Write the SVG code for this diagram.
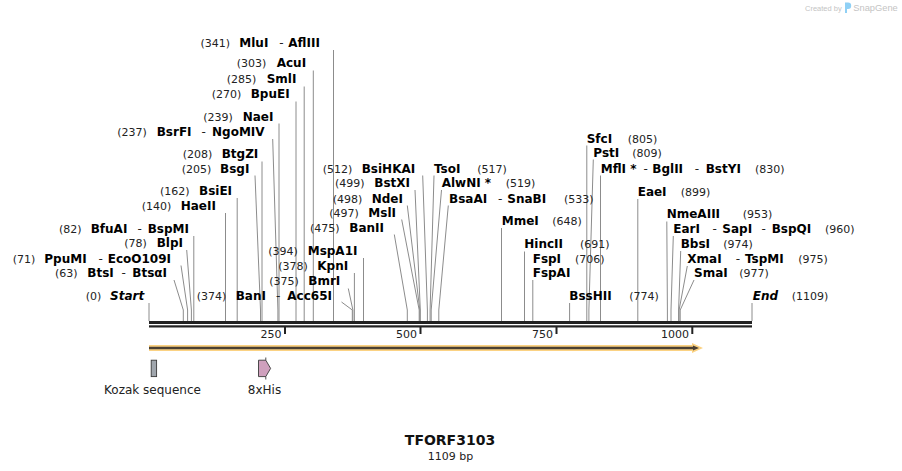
<svg xmlns="http://www.w3.org/2000/svg" width="902" height="471" viewBox="0 0 902 471">
<style>
.n{font-family:"DejaVu Sans",Verdana,sans-serif;font-weight:bold;font-size:12px;fill:#000}
.it{font-style:italic}
.p{font-family:"DejaVu Sans",Verdana,sans-serif;font-size:11px;fill:#222}
.h{font-family:"DejaVu Sans",Verdana,sans-serif;font-weight:normal;font-size:12px;fill:#222}
.c{fill:none;stroke:#8c8c8c;stroke-width:1}
.t{font-family:"DejaVu Sans",Verdana,sans-serif;font-size:11px;fill:#222}
.f{font-family:"DejaVu Sans",Verdana,sans-serif;font-size:12px;fill:#222}
.wm{font-family:"Liberation Sans",Arial,sans-serif;fill:#c4c4c4}
</style>
<rect width="902" height="471" fill="#fff"/>

<g id="watermark">
<text class="wm" x="805" y="10.5" font-size="7.5">Created by</text>
<path d="M845,2.5 h3 a3.2 3.2 0 0 1 0 6.4 h-1 v4 h-2 z" fill="#8fd0f5"/>
<text class="wm" x="853.3" y="11" font-size="9.3" fill="#b0b0b0">SnapGene</text>
</g>

<g id="connectors">
<line class="c" x1="333.5" y1="50" x2="333.5" y2="321"/>
<line class="c" x1="313.3" y1="70.5" x2="313.3" y2="321"/>
<line class="c" x1="304.2" y1="86.5" x2="304.2" y2="321"/>
<line class="c" x1="296" y1="101.5" x2="296" y2="321"/>
<line class="c" x1="279" y1="123.5" x2="279" y2="321"/>
<polyline class="c" points="272.7,139 277.9,310 277.9,321"/>
<line class="c" x1="262" y1="161.5" x2="262" y2="321"/>
<polyline class="c" points="255,175.5 260.5,310 260.5,321"/>
<line class="c" x1="237.2" y1="198" x2="237.2" y2="321"/>
<line class="c" x1="225.5" y1="213" x2="225.5" y2="321"/>
<line class="c" x1="193.8" y1="236" x2="193.8" y2="321"/>
<polyline class="c" points="186.7,250 191.4,310 191.4,321"/>
<polyline class="c" points="181,265.5 187.6,310 187.6,321"/>
<polyline class="c" points="174,280 183.3,310 183.3,321"/>
<line class="c" x1="149" y1="303" x2="149" y2="321"/>
<polyline class="c" points="341.5,302 352.3,310 352.3,321"/>
<polyline class="c" points="348.3,288.5 352.9,310 352.9,321"/>
<line class="c" x1="354.4" y1="273" x2="354.4" y2="321"/>
<line class="c" x1="363.5" y1="258" x2="363.5" y2="321"/>
<polyline class="c" points="394.3,234.5 407.3,310 407.3,321"/>
<polyline class="c" points="401.7,219.5 419.2,310 419.2,321"/>
<polyline class="c" points="407.3,205.5 419.8,310 419.8,321"/>
<polyline class="c" points="415,190 420.3,310 420.3,321"/>
<polyline class="c" points="422.7,175.5 427.4,310 427.4,321"/>
<polyline class="c" points="434,175.5 430.1,310 430.1,321"/>
<polyline class="c" points="441.5,190 431.2,310 431.2,321"/>
<polyline class="c" points="448.3,205.5 438.8,310 438.8,321"/>
<line class="c" x1="501.5" y1="228" x2="501.5" y2="321"/>
<line class="c" x1="524.5" y1="251.5" x2="524.5" y2="321"/>
<line class="c" x1="532.8" y1="280" x2="532.8" y2="321"/>
<line class="c" x1="569.6" y1="303" x2="569.6" y2="321"/>
<line class="c" x1="586.8" y1="145.5" x2="586.8" y2="321"/>
<polyline class="c" points="593.3,159.5 588.9,310 588.9,321"/>
<line class="c" x1="600.5" y1="175.5" x2="600.5" y2="321"/>
<line class="c" x1="637.8" y1="199" x2="637.8" y2="321"/>
<polyline class="c" points="666.8,221.5 667.4,310 667.4,321"/>
<polyline class="c" points="673.3,236 671,310 671,321"/>
<polyline class="c" points="680.7,251 678.6,310 678.6,321"/>
<polyline class="c" points="687.3,266 679.1,310 679.1,321"/>
<polyline class="c" points="694,280 680.2,310 680.2,321"/>
<line class="c" x1="752" y1="303" x2="752" y2="321"/>
</g>

<g id="axis">
<rect x="149" y="321" width="603" height="3" fill="#222"/>
<rect x="149" y="325.3" width="603" height="2.2" fill="#222"/>
<rect x="284" y="327" width="2" height="7" fill="#222"/>
<rect x="419.5" y="327" width="2" height="7" fill="#222"/>
<rect x="555.5" y="327" width="2" height="7" fill="#222"/>
<rect x="691.3" y="327" width="2" height="7" fill="#222"/>
<text class="t" x="281.5" y="338" text-anchor="end">250</text>
<text class="t" x="417" y="338" text-anchor="end">500</text>
<text class="t" x="553" y="338" text-anchor="end">750</text>
<text class="t" x="689" y="338" text-anchor="end">1000</text>
</g>

<g id="orf">
<polygon points="149,345 692,345 692,343 703,348 692,353 692,351 149,351" fill="#fbd283"/>
<line x1="149" y1="348" x2="694" y2="348" stroke="#4b4033" stroke-width="2.4"/>
<polygon points="693,345.4 699,348 693,350.6" fill="#4b4033"/>
</g>

<g id="kozak">
<rect x="151.2" y="360.2" width="5.4" height="16.4" fill="#a0a6ad" stroke="#3a3a3a" stroke-width="0.9"/>
<text class="f" x="152.5" y="394" text-anchor="middle">Kozak sequence</text>
</g>

<g id="his8">
<polygon points="258.5,360.2 265.8,360.2 270.6,368.4 265.8,376.6 258.5,376.6" fill="#cfa0bd" stroke="#3a3a3a" stroke-width="0.9"/>
<line x1="265.8" y1="357.5" x2="265.8" y2="360.2" stroke="#3a3a3a" stroke-width="0.9"/>
<line x1="265.8" y1="376.6" x2="265.8" y2="379.5" stroke="#3a3a3a" stroke-width="0.9"/>
<text class="f" x="264.5" y="394" text-anchor="middle">8xHis</text>
</g>

<g id="title">
<text x="450" y="444.5" text-anchor="middle" font-family="DejaVu Sans,Verdana,sans-serif" font-weight="bold" font-size="14" fill="#111">TFORF3103</text>
<text class="t" x="450.5" y="459.5" text-anchor="middle">1109 bp</text>
</g>

<g id="enz-341"><text class="p" x="200.5" y="46.5">(341)</text><text class="n" x="239.3" y="46.5">MluI<tspan class="h" x="279.3">-</tspan><tspan x="288.3">AflIII</tspan></text></g>
<g id="enz-303"><text class="p" x="236.7" y="67.3">(303)</text><text class="n" x="276.7" y="67.3">AcuI</text></g>
<g id="enz-285"><text class="p" x="226.7" y="83.3">(285)</text><text class="n" x="266.7" y="83.3">SmlI</text></g>
<g id="enz-270"><text class="p" x="211.7" y="98.3">(270)</text><text class="n" x="250.7" y="98.3">BpuEI</text></g>
<g id="enz-239"><text class="p" x="203.3" y="120.7">(239)</text><text class="n" x="242.7" y="120.7">NaeI</text></g>
<g id="enz-237"><text class="p" x="117.3" y="136">(237)</text><text class="n" x="156.7" y="136">BsrFI<tspan class="h" x="201.5">-</tspan><tspan x="212">NgoMIV</tspan></text></g>
<g id="enz-208"><text class="p" x="182.7" y="158.3">(208)</text><text class="n" x="221.7" y="158.3">BtgZI</text></g>
<g id="enz-205"><text class="p" x="181.7" y="172.7">(205)</text><text class="n" x="220" y="172.7">BsgI</text></g>
<g id="enz-162"><text class="p" x="160" y="195">(162)</text><text class="n" x="199" y="195">BsiEI</text></g>
<g id="enz-140"><text class="p" x="141.7" y="210">(140)</text><text class="n" x="180.7" y="210">HaeII</text></g>
<g id="enz-82"><text class="p" x="59" y="232.7">(82)</text><text class="n" x="90.7" y="232.7">BfuAI<tspan class="h" x="137.5">-</tspan><tspan x="147.7">BspMI</tspan></text></g>
<g id="enz-78"><text class="p" x="124.3" y="247.3">(78)</text><text class="n" x="156.7" y="247.3">BlpI</text></g>
<g id="enz-71"><text class="p" x="12.7" y="262.7">(71)</text><text class="n" x="44.3" y="262.7">PpuMI<tspan class="h" x="98.5">-</tspan><tspan x="107.7">EcoO109I</tspan></text></g>
<g id="enz-63"><text class="p" x="55" y="277.3">(63)</text><text class="n" x="87.3" y="277.3">BtsI<tspan class="h" x="121.5">-</tspan><tspan x="132.3">BtsαI</tspan></text></g>
<g id="enz-0"><text class="p" x="85.7" y="300">(0)</text><text class="n it" x="110" y="300">Start</text></g>
<g id="enz-374"><text class="p" x="196.7" y="300">(374)</text><text class="n" x="235.7" y="300">BanI<tspan class="h" x="276">-</tspan><tspan x="287.3">Acc65I</tspan></text></g>
<g id="enz-375"><text class="p" x="269.3" y="285">(375)</text><text class="n" x="308.3" y="285">BmrI</text></g>
<g id="enz-378"><text class="p" x="278.3" y="270">(378)</text><text class="n" x="317.3" y="270">KpnI</text></g>
<g id="enz-394"><text class="p" x="268.3" y="255">(394)</text><text class="n" x="307.7" y="255">MspA1I</text></g>
<g id="enz-475"><text class="p" x="310" y="231.7">(475)</text><text class="n" x="349.3" y="231.7">BanII</text></g>
<g id="enz-497"><text class="p" x="329.3" y="216.7">(497)</text><text class="n" x="368.3" y="216.7">MslI</text></g>
<g id="enz-498"><text class="p" x="332.7" y="202.7">(498)</text><text class="n" x="371.7" y="202.7">NdeI</text></g>
<g id="enz-499"><text class="p" x="335" y="187.3">(499)</text><text class="n" x="374.3" y="187.3">BstXI</text></g>
<g id="enz-512"><text class="p" x="322.7" y="172.7">(512)</text><text class="n" x="361.7" y="172.7">BsiHKAI</text></g>
<g id="enz-517"><text class="n" x="434" y="172.7">TsoI</text><text class="p" x="477.3" y="172.7">(517)</text></g>
<g id="enz-519"><text class="n" x="441.7" y="187.3">AlwNI *</text><text class="p" x="505.7" y="187.3">(519)</text></g>
<g id="enz-533"><text class="n" x="449" y="202.7">BsaAI<tspan class="h" x="498">-</tspan><tspan x="507.3">SnaBI</tspan></text><text class="p" x="564" y="202.7">(533)</text></g>
<g id="enz-648"><text class="n" x="501.7" y="225">MmeI</text><text class="p" x="552.3" y="225">(648)</text></g>
<g id="enz-691"><text class="n" x="524.3" y="248.3">HincII</text><text class="p" x="580" y="248.3">(691)</text></g>
<g id="enz-706"><text class="n" x="532.7" y="262.7">FspI</text><text class="p" x="575" y="262.7">(706)</text><text class="n" x="532.7" y="276.7">FspAI</text></g>
<g id="enz-774"><text class="n" x="569.3" y="300">BssHII</text><text class="p" x="629.3" y="300">(774)</text></g>
<g id="enz-805"><text class="n" x="586.7" y="142.7">SfcI</text><text class="p" x="627.7" y="142.7">(805)</text></g>
<g id="enz-809"><text class="n" x="593.3" y="156.7">PstI</text><text class="p" x="632.3" y="156.7">(809)</text></g>
<g id="enz-830"><text class="n" x="600.7" y="172.7">MflI *<tspan class="h" x="643.5">-</tspan><tspan x="652.3">BglII</tspan><tspan class="h" x="694.7">-</tspan><tspan x="705.7">BstYI</tspan></text><text class="p" x="755" y="172.7">(830)</text></g>
<g id="enz-899"><text class="n" x="637.7" y="196">EaeI</text><text class="p" x="680.7" y="196">(899)</text></g>
<g id="enz-953"><text class="n" x="666.7" y="218.3">NmeAIII</text><text class="p" x="742.7" y="218.3">(953)</text></g>
<g id="enz-960"><text class="n" x="673.3" y="233.3">EarI<tspan class="h" x="712.5">-</tspan><tspan x="722.3">SapI</tspan><tspan class="h" x="761.5">-</tspan><tspan x="771.7">BspQI</tspan></text><text class="p" x="825" y="233.3">(960)</text></g>
<g id="enz-974"><text class="n" x="680.7" y="248.3">BbsI</text><text class="p" x="723.3" y="248.3">(974)</text></g>
<g id="enz-975"><text class="n" x="687.3" y="262.7">XmaI<tspan class="h" x="735.8">-</tspan><tspan x="745">TspMI</tspan></text><text class="p" x="798.3" y="262.7">(975)</text></g>
<g id="enz-977"><text class="n" x="694" y="276.7">SmaI</text><text class="p" x="739.3" y="276.7">(977)</text></g>
<g id="enz-1109"><text class="n it" x="752.7" y="300">End</text><text class="p" x="791.7" y="300">(1109)</text></g>
</svg>
